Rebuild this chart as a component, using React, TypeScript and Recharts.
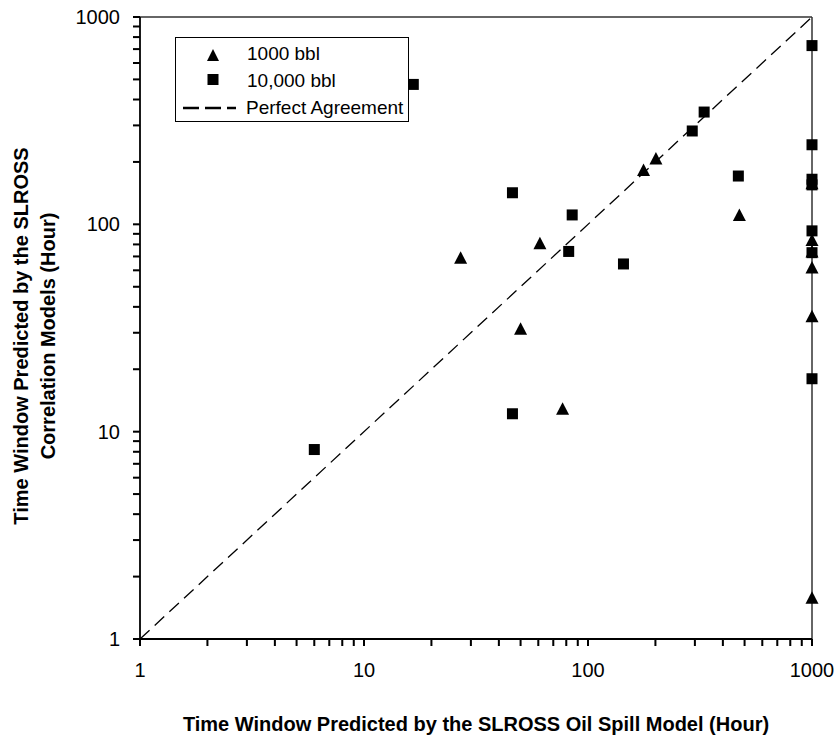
import React from 'react';
import {
  ScatterChart,
  Scatter,
  XAxis,
  YAxis,
  ReferenceLine,
} from 'recharts';

// 1000 bbl series (triangles)
const bbl1000X = [27, 50, 61, 77, 177, 201, 474, 1000, 1000, 1000, 1000, 1000, 1000];
const bbl1000Y = [69, 31.4, 81, 12.9, 183, 208, 111, 158, 84, 74, 62, 36, 1.58];

// 10,000 bbl series (squares)
const bbl10000X = [6, 16.6, 46, 46, 82, 85, 144, 292, 330, 469, 1000, 1000, 1000, 1000, 1000, 1000, 1000];
const bbl10000Y = [8.2, 473, 142, 12.2, 74, 111, 64.4, 282, 348, 171, 728, 242, 165, 155, 93, 73, 18];

// Perfect agreement line endpoints
const agreeX = [1, 1000];
const agreeY = [1, 1000];

const logTicks = [
  1, 2, 3, 4, 5, 6, 7, 8, 9,
  10, 20, 30, 40, 50, 60, 70, 80, 90,
  100, 200, 300, 400, 500, 600, 700, 800, 900,
  1000,
];
const majorLabels = [1, 10, 100, 1000];

const xTitle = 'Time Window Predicted by the SLROSS Oil Spill Model (Hour)';
const yTitle1 = 'Time Window Predicted by the SLROSS';
const yTitle2 = 'Correlation Models (Hour)';

const seriesTri = bbl1000X.map((x, i) => ({ x, y: bbl1000Y[i] }));
const seriesSq = bbl10000X.map((x, i) => ({ x, y: bbl10000Y[i] }));

const FONT = '"Liberation Sans", Arial, sans-serif';

const TICK_SIZE = 7;
const X_TICK_MARGIN = 17;
const Y_TICK_MARGIN = 13;

const label = (v: number) => (majorLabels.includes(v) ? String(v) : '');

const XTick = (props: any) => {
  const { x, y, payload } = props;
  const t = label(payload.value);
  return (
    <g>
      <path d={`M${x},${y - X_TICK_MARGIN - TICK_SIZE}L${x},${y - X_TICK_MARGIN}`} stroke="#000" strokeWidth={2} fill="none" />
      {t && (
        <text x={x} y={y} dy="0.71em" textAnchor="middle" fontSize={20} fontFamily={FONT} fill="#000">
          {t}
        </text>
      )}
    </g>
  );
};

const YTick = (props: any) => {
  const { x, y, payload } = props;
  const t = label(payload.value);
  return (
    <g>
      <path d={`M${x + Y_TICK_MARGIN + TICK_SIZE},${y}L${x + Y_TICK_MARGIN},${y}`} stroke="#000" strokeWidth={2} fill="none" />
      {t && (
        <text x={x} y={y} dy="0.355em" textAnchor="end" fontSize={20} fontFamily={FONT} fill="#000">
          {t}
        </text>
      )}
    </g>
  );
};

const TriShape = (props: any) => {
  const { cx, cy } = props;
  if (cx == null || cy == null) return null;
  return (
    <polygon
      points={`${cx - 6.5},${cy + 6} ${cx + 6.5},${cy + 6} ${cx},${cy - 6.5}`}
      fill="#000"
    />
  );
};

const SqShape = (props: any) => {
  const { cx, cy } = props;
  if (cx == null || cy == null) return null;
  return <rect x={cx - 5.5} y={cy - 5.5} width={11} height={11} fill="#000" />;
};

const Overlay = () => (
  <svg
    width={835}
    height={738}
    style={{ position: 'absolute', left: 0, top: 0, pointerEvents: 'none', fontFamily: FONT }}
  >
    <g transform="translate(175,37)">
      <rect x={0.5} y={0.5} width={233} height={84} fill="#fff" stroke="#000" strokeWidth={1} />
      <polygon points="32,24 44,24 38,12" fill="#000" />
      <text x={72} y={23} fontSize={19} fill="#000">1000 bbl</text>
      <rect x={32.5} y={37} width={11} height={11} fill="#000" />
      <text x={72} y={50} fontSize={19} fill="#000">10,000 bbl</text>
      <line x1={8} y1={71} x2={61} y2={71} stroke="#000" strokeWidth={2.5} strokeDasharray="16 6" />
      <text x={71} y={77} fontSize={19} fill="#000">Perfect Agreement</text>
    </g>
    <text x={476} y={731} textAnchor="middle" fontSize={20} fontWeight="bold" fill="#000">
      {xTitle}
    </text>
    <g transform="translate(21,336) rotate(-90)">
      <text x={0} y={7} textAnchor="middle" fontSize={20} fontWeight="bold" fill="#000">
        {yTitle1}
      </text>
      <text x={0} y={34} textAnchor="middle" fontSize={20} fontWeight="bold" fill="#000">
        {yTitle2}
      </text>
    </g>
  </svg>
);

export default function App() {
  return (
    <div style={{ fontFamily: FONT, position: 'absolute', left: 0, top: 0, width: 835, height: 738 }}>
      <ScatterChart
        width={835}
        height={738}
        margin={{ top: 17, right: 23, bottom: 59, left: 80 }}
      >
        <XAxis
          type="number"
          dataKey="x"
          scale="log"
          domain={[1, 1000]}
          ticks={logTicks}
          interval={0}
          height={40}
          tickSize={TICK_SIZE}
          tickMargin={X_TICK_MARGIN}
          axisLine={{ stroke: '#000', strokeWidth: 1.8 }}
          tick={(p: any) => <XTick {...p} />}
        />
        <YAxis
          type="number"
          dataKey="y"
          scale="log"
          domain={[1, 1000]}
          ticks={logTicks}
          interval={0}
          width={60}
          tickSize={TICK_SIZE}
          tickMargin={Y_TICK_MARGIN}
          axisLine={{ stroke: '#000', strokeWidth: 1.8 }}
          tick={(p: any) => <YTick {...p} />}
        />
        <ReferenceLine y={1000} stroke="#333" strokeWidth={1.5} />
        <ReferenceLine x={1000} stroke="#333" strokeWidth={1.5} />
        <ReferenceLine
          segment={[
            { x: agreeX[0], y: agreeY[0] },
            { x: agreeX[1], y: agreeY[1] },
          ]}
          stroke="#000"
          strokeWidth={1.3}
          strokeDasharray="13 7"
        />
        <Scatter
          name="1000 bbl"
          data={seriesTri}
          shape={TriShape}
          fill="#000"
          isAnimationActive={false}
        />
        <Scatter
          name="10,000 bbl"
          data={seriesSq}
          shape={SqShape}
          fill="#000"
          isAnimationActive={false}
        />
      </ScatterChart>
      <Overlay />
    </div>
  );
}
